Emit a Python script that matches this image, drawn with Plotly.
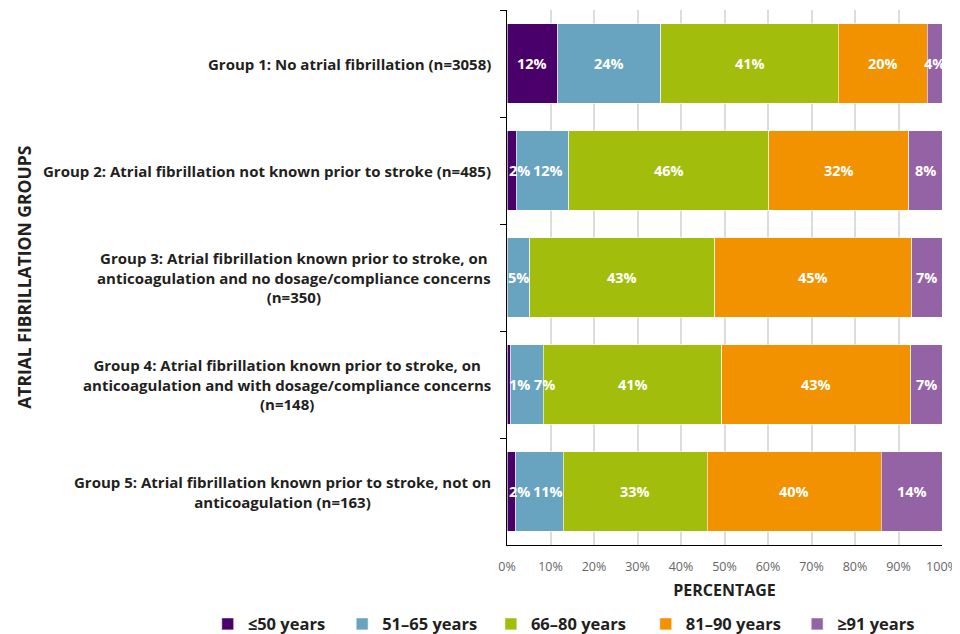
import plotly.graph_objects as go

groups = [
    "Group 1: No atrial fibrillation (n=3058)",
    "Group 2: Atrial fibrillation not known prior to stroke (n=485)",
    "Group 3: Atrial fibrillation known prior to stroke, on<br>anticoagulation and no dosage/compliance concerns<br>(n=350)",
    "Group 4: Atrial fibrillation known prior to stroke, on<br>anticoagulation and with dosage/compliance concerns<br>(n=148)",
    "Group 5: Atrial fibrillation known prior to stroke, not on<br>anticoagulation (n=163)",
]
age_bands = ["≤50 years", "51–65 years", "66–80 years", "81–90 years", "≥91 years"]

# percentages
pct_le50 = [11.7, 2.1, 0.0, 0.7, 2.0]
pct_51_65 = [23.7, 12.1, 5.2, 7.6, 10.9]
pct_66_80 = [40.7, 46.0, 42.6, 41.1, 33.1]
pct_81_90 = [20.5, 32.1, 45.2, 43.4, 40.0]
pct_ge91 = [3.4, 7.7, 7.0, 7.2, 14.0]

# labels as printed on the chart
lab_le50 = ["12%", "2%", "", "1%", "2%"]
lab_51_65 = ["24%", "12%", "5%", "7%", "11%"]
lab_66_80 = ["41%", "46%", "43%", "41%", "33%"]
lab_81_90 = ["20%", "32%", "45%", "43%", "40%"]
lab_ge91 = ["4%", "8%", "7%", "7%", "14%"]

x_ticks = [0, 10, 20, 30, 40, 50, 60, 70, 80, 90, 100]

colors = ["#4a006a", "#68a4c0", "#a3bd0c", "#f29200", "#9463a5"]
series = [pct_le50, pct_51_65, pct_66_80, pct_81_90, pct_ge91]
labels = [lab_le50, lab_51_65, lab_66_80, lab_81_90, lab_ge91]

FONT = "Open Sans"
DARK = "#231f20"
PLOT_W = 435  # px, plot area width
# one legend box per age band so the spacing follows the reference
legend_x = [-0.688, -0.379, -0.037, 0.319, 0.667]
legend_ids = ["legend2", "legend3", "legend4", "legend5", "legend6"]

fig = go.Figure()
for name, vals, col, lid in zip(age_bands, series, colors, legend_ids):
    fig.add_trace(go.Bar(
        y=groups, x=vals, name=name, orientation="h", legend=lid,
        marker=dict(color=col, line=dict(color="rgba(255,255,255,0.6)", width=1)),
        hoverinfo="skip",
    ))


def label_w(s):
    return 8.3 * (len(s) - 1) + 12.5


# segment labels as annotations so they sit above neighbouring bars
base = [0.0] * len(groups)
prev_right = [None] * len(groups)
for vals, labs in zip(series, labels):
    for i, (v, lab) in enumerate(zip(vals, labs)):
        mid = base[i] + v / 2
        base[i] += v
        if not lab:
            continue
        w = label_w(lab)
        font = dict(family=FONT, size=14.5, color="white", weight="bold")
        if mid * PLOT_W / 100 - w / 2 < 0:
            # too narrow: start the label at the axis
            fig.add_annotation(x=0, y=i, xref="x", yref="y", text=lab,
                               showarrow=False, xanchor="left", font=font)
            prev_right[i] = 2 + w
            continue
        shift = 0
        if prev_right[i] is not None:
            left = mid * PLOT_W / 100 - w / 2
            shift = max(0, prev_right[i] + 4 - left)
            prev_right[i] = None
        fig.add_annotation(x=mid, y=i, xref="x", yref="y", text=lab,
                           showarrow=False, xanchor="center", xshift=shift, font=font)

# category labels, centred blocks right-aligned against the axis
for i, g in enumerate(groups):
    fig.add_annotation(
        x=0, xref="paper", y=i, yref="y", text=g,
        xanchor="right", xshift=-14, align="center", showarrow=False,
        font=dict(family=FONT, size=15, color=DARK, weight="bold"),
    )

fig.add_annotation(
    x=-1.112, xref="paper", y=0.5, yref="paper", text="ATRIAL FIBRILLATION GROUPS",
    textangle=-90, showarrow=False, xanchor="center", yanchor="middle",
    font=dict(family=FONT, size=17.5, color=DARK, weight="bold"),
)

legend_style = dict(
    orientation="h", xanchor="left", y=-0.148, yanchor="middle",
    font=dict(family=FONT, size=16.5, color=DARK, weight="bold"),
    itemclick=False, bgcolor="rgba(0,0,0,0)",
)
fig.update_layout(
    barmode="stack", bargap=0.26,
    width=952, height=626,
    margin=dict(l=499, r=18, t=2, b=89, autoexpand=False),
    plot_bgcolor="white", paper_bgcolor="white",
    showlegend=True,
    **{lid: dict(x=lx, **legend_style) for lid, lx in zip(legend_ids, legend_x)},
)
fig.update_xaxes(
    range=[0, 100], tickvals=x_ticks, ticktext=[f"{v}%" for v in x_ticks],
    showgrid=True, gridcolor="#dcdcdc", gridwidth=1.5, zeroline=False,
    showline=True, linecolor="black", linewidth=1.2,
    ticklabelstandoff=10, ticklabeloverflow="allow",
    tickfont=dict(family=FONT, size=12.5, color="#666666"),
    title=dict(text="PERCENTAGE", standoff=10,
               font=dict(family=FONT, size=16, color=DARK, weight="bold")),
)
fig.update_yaxes(
    autorange="reversed", showticklabels=False, showgrid=False,
    tickson="boundaries", ticks="outside", ticklen=6, tickcolor="black",
    showline=True, linecolor="black", linewidth=1.2,
)

fig.write_html("out.html")
